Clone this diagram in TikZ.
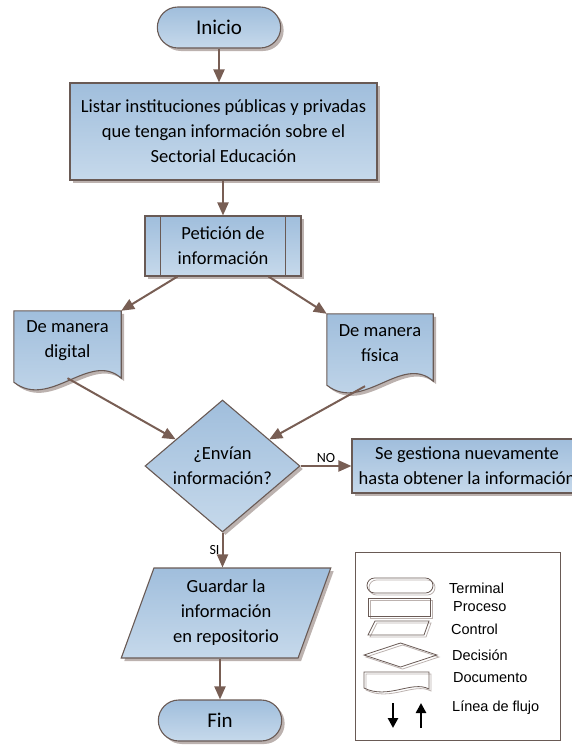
\documentclass[tikz,border=0pt]{standalone}
\usepackage{fontspec}
\setmainfont{Carlito}
\newfontfamily\legendfont{Liberation Sans}
\usetikzlibrary{shapes.geometric,shapes.misc,arrows.meta,shadows,calc}
\definecolor{boxtop}{RGB}{160,190,220}
\definecolor{boxbot}{RGB}{198,217,235}
\definecolor{edgecol}{RGB}{105,90,85}
\definecolor{flowcol}{RGB}{120,94,84}
\definecolor{shadecol}{RGB}{188,178,175}

\begin{document}
\begin{tikzpicture}[x=1pt,y=-1pt,
  every node/.style={align=center,font=\fontsize{18.5}{25}\selectfont},
  block/.style={draw=edgecol,line width=1.1pt,top color=boxtop,bottom color=boxbot,
    drop shadow={shadow xshift=3pt,shadow yshift=-3pt,fill=shadecol,opacity=1}},
  terminal/.style={block,rounded rectangle,minimum width=130pt,minimum height=41pt,
    font=\fontsize{21}{25}\selectfont},
  process/.style={block,rectangle,inner sep=0pt},
  decision/.style={block,diamond,shape aspect=1.17,inner sep=0pt,
    minimum width=155pt,minimum height=132pt},
  control/.style={block,trapezium,trapezium left angle=70,trapezium right angle=110,
    inner sep=0pt,minimum width=193pt,minimum height=90pt},
  docbox/.style={rectangle,inner sep=0pt},
  flow/.style={draw=flowcol,line width=2pt,-{Triangle[length=13pt,width=11pt]}},
  tag/.style={font=\fontsize{14}{15}\selectfont,inner sep=2pt},
  legsym/.style={draw=edgecol,line width=0.8pt,
    general shadow={shadow xshift=2pt,shadow yshift=-2pt,draw=shadecol,line width=0.8pt}},
  legtext/.style={font=\legendfont\fontsize{14.5}{16}\selectfont,anchor=west,inner sep=0pt},
  legflow/.style={draw=black,line width=2.8pt,-{Triangle[length=10pt,width=10pt]}}
]
  \useasboundingbox (0,0) rectangle (572,747);
  \clip (0,0) rectangle (572,747);
  %
  \node[terminal] (inicio) at (219,27.5) {Inicio};
  \node[process,minimum width=307pt,minimum height=97pt] (listar) at (223.5,131.5)
    {Listar instituciones públicas y privadas\\que tengan información sobre el\\Sectorial Educación};
  \node[process,minimum width=156pt,minimum height=60pt] (peticion) at (223,246) {Petición de\\información};
  \draw[edgecol,line width=1.1pt] ([xshift=16pt]peticion.north west) -- ([xshift=16pt]peticion.south west);
  \draw[edgecol,line width=1.1pt] ([xshift=-16pt]peticion.north east) -- ([xshift=-16pt]peticion.south east);
  %
  \node[docbox,minimum width=107pt,minimum height=69pt] (docL) at (67.5,345.5) {};
  \path[block] (docL.north west) -- (docL.north east) -- ($(docL.south east)+(0,-2)$)
    .. controls ($(docL.south east)+(-31,-30)$) and ($(docL.south west)+(36,30)$) .. ($(docL.south west)+(0,2)$) -- cycle;
  \node (docLtext) at ($(docL)+(0,-5)$) {De manera\\digital};
  %
  \node[docbox,minimum width=106pt,minimum height=69pt] (docR) at (380,348.5) {};
  \path[block] (docR.north west) -- (docR.north east) -- ($(docR.south east)+(0,-2)$)
    .. controls ($(docR.south east)+(-31,-30)$) and ($(docR.south west)+(36,30)$) .. ($(docR.south west)+(0,2)$) -- cycle;
  \node (docRtext) at ($(docR)+(0,-5)$) {De manera\\física};
  %
  \node[decision] (dec) at (222.5,466) {¿Envían\\información?};
  \node[process,minimum width=230pt,minimum height=54pt] (gest) at (467,466)
    {Se gestiona nuevamente\\hasta obtener la información};
  \node[control] (guardar) at (226,613) {Guardar la\\información\\en repositorio};
  \node[terminal] (fin) at (220,720.5) {Fin};
  %
  \draw[flow] (inicio.south) -- (inicio.south |- listar.north);
  \draw[flow] (peticion.north |- listar.south) -- (peticion.north);
  \draw[flow] ($(peticion.south west)+(33,0)$) -- (docL.north east);
  \draw[flow] ($(peticion.south east)+(-33,0)$) -- (docR.north west);
  \draw[flow] ($(docL.south)+(0,-2)$) -- ($(dec.west)!0.4!(dec.north)$);
  \draw[flow] ($(docR.south)+(-15,3)$) -- ($(dec.east)!0.4!(dec.north)$);
  \draw[flow] (dec.east) -- node[tag,above] (no) {NO} (gest.west);
  \draw[flow] (dec.south) -- node[tag,left] (si) {SI} (dec.south |- guardar.north);
  \draw[flow] (fin.north |- guardar.south) -- (fin.north);
  %
  % leyenda
  \draw[edgecol,line width=0.8pt] (355,552.5) rectangle (560.5,740);
  \draw[legsym,rounded corners=7.5pt] (367,578) rectangle (433,593);
  \draw[legsym] (368,598) rectangle (430,616);
  \draw[legsym] (375,621) -- (429,621) -- (424,635) -- (368,635) -- cycle;
  \draw[legsym] (364,655) -- (400.5,643) -- (437,655) -- (400.5,667) -- cycle;
  \draw[legsym] (364,672) -- (429,672) -- (429,689) .. controls (412,680) and (388,700) .. (364,688) -- cycle;
  \coordinate (dntop) at (393,703);
  \coordinate (dnend) at (393,728);
  \coordinate (upbot) at (421,728);
  \coordinate (upend) at (421,703);
  \draw[legflow] (dntop) -- (dnend);
  \draw[legflow] (upbot) -- (upend);
  %
  \node[legtext] (lterm) at (449,588) {Terminal};
  \node[legtext] (lproc) at (453,607) {Proceso};
  \node[legtext] (lcont) at (451,629) {Control};
  \node[legtext] (ldeci) at (452,655) {Decisión};
  \node[legtext] (ldocu) at (453,678) {Documento};
  \node[legtext] (lflow) at (452,708) {Línea de flujo};
\end{tikzpicture}
\end{document}
